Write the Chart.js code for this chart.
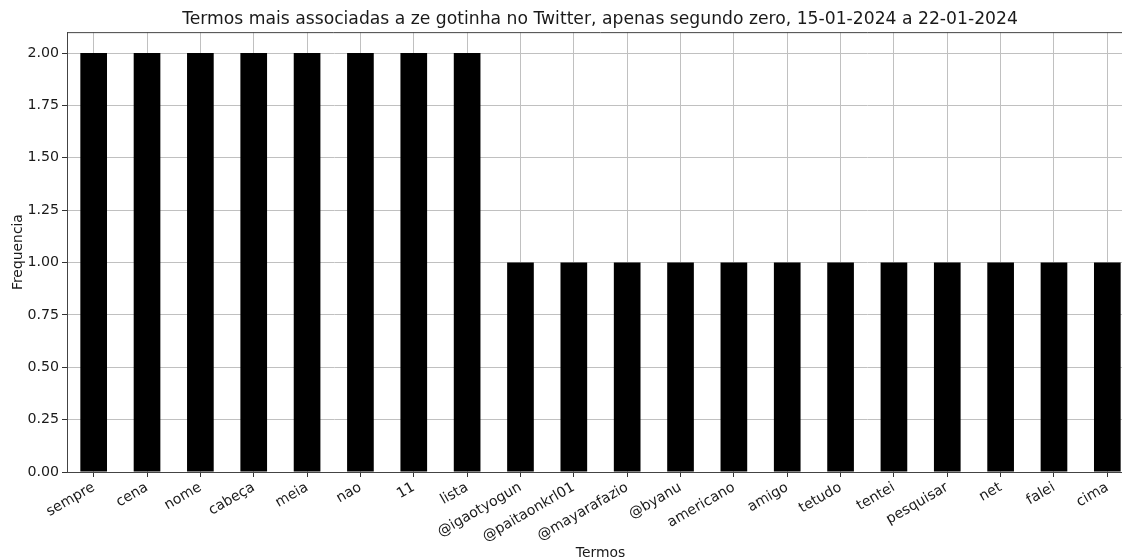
<!DOCTYPE html>
<html>
<head>
<meta charset="utf-8">
<script src="https://cdn.jsdelivr.net/npm/chart.js@4/dist/chart.umd.min.js"></script>
<style>
  html, body { margin: 0; padding: 0; background: #fff; overflow: hidden; }
</style>
</head>
<body>
<canvas id="chart" width="1200" height="562"></canvas>
<script>
// terms and their counts
const termos = [
  "sempre", "cena", "nome", "cabeça", "meia", "nao", "11", "lista",
  "@igaotyogun", "@paitaonkrl01", "@mayarafazio", "@byanu", "americano",
  "amigo", "tetudo", "tentei", "pesquisar", "net", "falei", "cima"
];
const frequencia = [2, 2, 2, 2, 2, 2, 2, 2, 1, 1, 1, 1, 1, 1, 1, 1, 1, 1, 1, 1];
const yTicks = [0, 0.25, 0.5, 0.75, 1.0, 1.25, 1.5, 1.75, 2.0];

const font = "'DejaVu Sans', sans-serif";
const textColor = "#1a1a1a";
const gridColor = "#c0c0c0";

//top spine, matplotlib draws a full frame
const framePlugin = {
  id: "frame",
  afterDraw(chart) {
    const a = chart.chartArea, ctx = chart.ctx;
    ctx.save();
    ctx.strokeStyle = "#444";
    ctx.lineWidth = 1;
    ctx.beginPath();
    ctx.moveTo(a.left, a.top + 0.5);
    ctx.lineTo(a.right, a.top + 0.5);
    ctx.stroke();
    ctx.restore();
  }
};

let ctx = document.getElementById("chart").getContext("2d");
new Chart(ctx, {
  type: "bar",
  data: {
    labels: termos,
    datasets: [{
      data: frequencia,
      backgroundColor: "#000",
      barPercentage: 0.5,
      categoryPercentage: 1.0
    }]
  },
  options: {
    responsive: false,
    animation: false,
    devicePixelRatio: 1,
    layout: { padding: 0 },
    plugins: {
      legend: { display: false },
      tooltip: { enabled: false },
      title: {
        display: true,
        text: "Termos mais associadas a ze gotinha no Twitter, apenas segundo zero, 15-01-2024 a 22-01-2024",
        color: textColor,
        font: { family: font, size: 17.2, weight: "normal" },
        padding: { top: 9.5, bottom: 2 }
      }
    },
    scales: {
      x: {
        z: 1,
        offset: true,
        grid: { color: gridColor, lineWidth: 1, offset: false, tickLength: 5, tickColor: "#333" },
        border: { color: "#444", width: 1 },
        ticks: {
          color: textColor,
          font: { family: font, size: 14.2 },
          minRotation: 30,
          maxRotation: 30,
          autoSkip: false,
          padding: 2
        },
        title: {
          display: true,
          text: "Termos",
          color: textColor,
          font: { family: font, size: 13.9 },
          padding: { top: 0, bottom: 0 }
        },
        afterFit: (s) => { s.height = 90; }
      },
      y: {
        z: 1,
        min: 0,
        max: 2.1,
        grid: { color: gridColor, lineWidth: 1, tickLength: 5, tickColor: "#333" },
        border: { color: "#444", width: 1 },
        afterBuildTicks: (s) => { s.ticks = yTicks.map((v) => ({ value: v })); },
        ticks: {
          color: textColor,
          font: { family: font, size: 14.2 },
          padding: 3,
          callback: (v) => Number(v).toFixed(2)
        },
        title: {
          display: true,
          text: "Frequencia",
          color: textColor,
          font: { family: font, size: 13.9 },
          padding: { top: 10, bottom: 0 }
        },
        afterFit: (s) => { s.width = 67; }
      },
      //empty axis on the right so the plot runs past the window edge like the original
      yRight: {
        position: "right",
        display: true,
        grid: { drawOnChartArea: false, drawTicks: false },
        border: { display: false },
        ticks: { display: false },
        afterFit: (s) => { s.width = 66; }
      }
    }
  },
  plugins: [framePlugin]
});
</script>
</body>
</html>
